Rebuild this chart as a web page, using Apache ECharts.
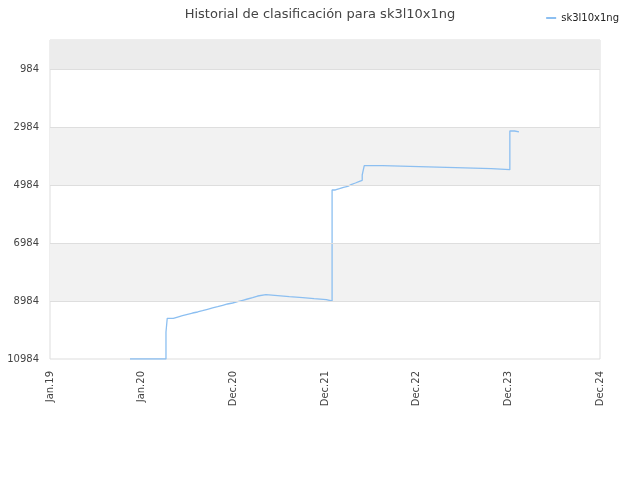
<!DOCTYPE html>
<html>
<head>
<meta charset="utf-8">
<script src="https://cdn.jsdelivr.net/npm/echarts@6/dist/echarts.min.js"></script>
<style>
  html, body { margin: 0; padding: 0; background: #fff; }
  #chart { width: 640px; height: 480px; }
</style>
</head>
<body>
<div id="chart"></div>
<script>
var playerName = 'sk3l10x1ng';

// fechas y posiciones (paso al final)
var dates = [
    '2019-11-18', '2020-04-08', '2020-04-13', '2020-05-07', '2020-05-24', '2020-06-12',
    '2020-07-02', '2020-07-22', '2020-08-11', '2020-08-30', '2020-09-19', '2020-10-09',
    '2020-10-29', '2020-11-18', '2020-12-07', '2020-12-27', '2021-01-16', '2021-02-05',
    '2021-02-24', '2021-03-16', '2021-04-05', '2021-05-08', '2021-06-23', '2021-08-08',
    '2021-09-30', '2021-11-14', '2022-01-01', '2022-01-24', '2022-02-06', '2022-02-22',
    '2022-03-10', '2022-03-27', '2022-04-09', '2022-04-26', '2022-05-12', '2022-05-23',
    '2022-05-25', '2022-05-31', '2022-08-12', '2023-01-02', '2023-05-27', '2023-10-15',
    '2023-12-27', '2024-01-15', '2024-02-01'
];
var ranks = [
    10984, 10053, 9581, 9536, 9491, 9443,
    9398, 9363, 9318, 9270, 9225, 9181,
    9132, 9087, 9053, 9008, 8960, 8915,
    8870, 8812, 8767, 8801, 8836, 8870,
    8905, 8939, 8984, 5156, 5111, 5064,
    5030, 4973, 4915, 4858, 4823, 4639,
    4560, 4317, 4352, 4387, 4421, 4456,
    3122, 3156, 3156
];

var yTicks = [984, 2984, 4984, 6984, 8984, 10984];
var yMin = -16;
var yMax = 10984;
var monthNames = ['Jan', 'Feb', 'Mar', 'Apr', 'May', 'Jun', 'Jul', 'Aug', 'Sep', 'Oct', 'Nov', 'Dec'];

var DAY = 24 * 3600 * 1000;
var xMin = Date.UTC(2019, 0, 6);
var xStep = 362 * DAY;
var xMax = xMin + 6 * xStep;

var seriesData = [];
for (var i = 0; i < dates.length; i++) {
    seriesData.push([new Date(dates[i] + 'T00:00:00Z').getTime(), ranks[i]]);
}

var myChart = echarts.init(document.getElementById('chart'));
myChart.setOption({
    animation: false,
    backgroundColor: '#fff',
    textStyle: { fontFamily: 'DejaVu Sans' },
    title: {
        text: 'Historial de clasificación para ' + playerName,
        left: 'center',
        top: 3,
        textStyle: { fontSize: 13, fontWeight: 'normal', color: '#444', fontFamily: 'DejaVu Sans' }
    },
    legend: {
        data: [playerName],
        top: 8,
        right: 16,
        icon: 'rect',
        itemWidth: 10,
        itemHeight: 2,
        itemGap: 8,
        textStyle: { fontSize: 10, color: '#222', fontFamily: 'DejaVu Sans' }
    },
    grid: {
        left: 50,
        right: 40,
        top: 40,
        bottom: 121,
        show: true,
        borderColor: '#ddd',
        borderWidth: 1,
        backgroundColor: '#fff'
    },
    xAxis: {
        type: 'value',
        min: xMin,
        max: xMax,
        interval: xStep,
        axisLine: { show: false },
        axisTick: { show: false },
        splitLine: { show: false },
        axisLabel: {
            rotate: 90,
            margin: 12,
            fontSize: 10,
            color: '#444',
            showMinLabel: true,
            showMaxLabel: true,
            formatter: function (v) {
                var d = new Date(v);
                return monthNames[d.getUTCMonth()] + '.' + String(d.getUTCFullYear()).slice(2);
            }
        }
    },
    yAxis: {
        type: 'value',
        inverse: true,
        min: yMin,
        max: yMax,
        axisLine: { show: false },
        axisTick: { show: false },
        splitLine: { show: false },
        axisLabel: {
            customValues: yTicks,
            margin: 11,
            fontSize: 10,
            color: '#444',
            formatter: function (v) { return String(v); }
        }
    },
    series: [{
        name: playerName,
        type: 'line',
        step: 'end',
        showSymbol: false,
        symbol: 'none',
        color: '#8cbff1',
        lineStyle: { color: '#8cbff1', width: 1.3 },
        data: seriesData,
        markArea: {
            silent: true,
            data: [
                [{ yAxis: yMin, itemStyle: { color: '#ececec' } }, { yAxis: yTicks[0] }],
                [{ yAxis: yTicks[1], itemStyle: { color: '#f2f2f2' } }, { yAxis: yTicks[2] }],
                [{ yAxis: yTicks[3], itemStyle: { color: '#f2f2f2' } }, { yAxis: yTicks[4] }]
            ]
        },
        markLine: {
            silent: true,
            symbol: 'none',
            label: { show: false },
            lineStyle: { color: '#dedede', type: 'solid', width: 1 },
            data: yTicks.slice(0, 5).map(function (v) { return { yAxis: v }; })
        }
    }]
});
</script>
</body>
</html>
